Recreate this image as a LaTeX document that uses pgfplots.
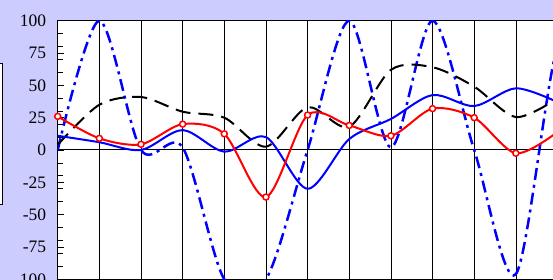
\documentclass[border=0pt]{standalone}
\usepackage{fontspec}
\setmainfont{Liberation Serif}
\usepackage{pgfplots}
\pgfplotsset{compat=1.18}
\definecolor{bg}{RGB}{204,204,255}
\begin{document}
\begin{tikzpicture}[x=1pt,y=1pt]
\useasboundingbox (0,0) rectangle (553,280);
\clip (0,0) rectangle (553,280);
\fill[bg] (0,0) rectangle (553,280);
\draw[black, line width=1pt, fill=white] (-10,75) rectangle (2.7,216.7);
\begin{axis}[
  at={(57.7pt,0.7pt)}, anchor=south west, scale only axis,
  width=499.8pt, height=258.6pt,
  xmin=0, xmax=12, ymin=-100, ymax=100,
  axis background/.style={fill=white},
  xtick={1,...,11}, xticklabels={},
  xmajorgrids, major x grid style={black, line width=0.7pt},
  xtick style={draw=none},
  ytick={-100,-75,...,100},
  yticklabels={-100,-75,-50,-25,0,25,50,75,100},
  minor ytick={-90,-80,...,90},
  ytick pos=left, tick align=inside,
  major tick length=6pt, minor tick length=5pt,
  ytick style={black, line width=0.8pt},
  yticklabel style={font=\fontsize{17.5}{20}\selectfont, xshift=-8pt},
  axis line style={black, line width=1pt},
  clip=true,
]
\draw[black, line width=1pt] (axis cs:0,0) -- (axis cs:13,0);
\addplot[blue, line width=2.5pt, smooth, dash pattern=on 12pt off 5pt on 3pt off 5pt]
  coordinates {(0,0)(1,100)(2,0)(3,2)(4,-100)(5,-100)(6,0)(7,100)(8,2)(9,100)(10,0)(11,-96)(12,80)(13,100)};
\addplot[black, line width=2pt, smooth, dash pattern=on 15pt off 8pt]
  coordinates {(0,4)(1,35)(2,41)(3,29.6)(4,25)(5,2.6)(6,33)(7,18)(8,62)(9,64)(10,49)(11,25.5)(12,40)};
\addplot[blue, line width=2pt, smooth]
  coordinates {(0,11)(1,6)(2,0)(3,15.4)(4,-1.3)(5,10)(6,-30)(7,8.5)(8,24)(9,42.5)(10,34)(11,47.7)(12,37)};
\addplot[red, line width=2pt, smooth, mark=*, mark size=3pt,
  mark options={solid, fill=white, draw=red, line width=1.5pt}]
  coordinates {(0,26)(1,9)(2,4.4)(3,20)(4,12.5)(5,-36.4)(6,27)(7,19)(8,11)(9,32)(10,25)(11,-2.5)(12,14)};
\end{axis}
\end{tikzpicture}
\end{document}
